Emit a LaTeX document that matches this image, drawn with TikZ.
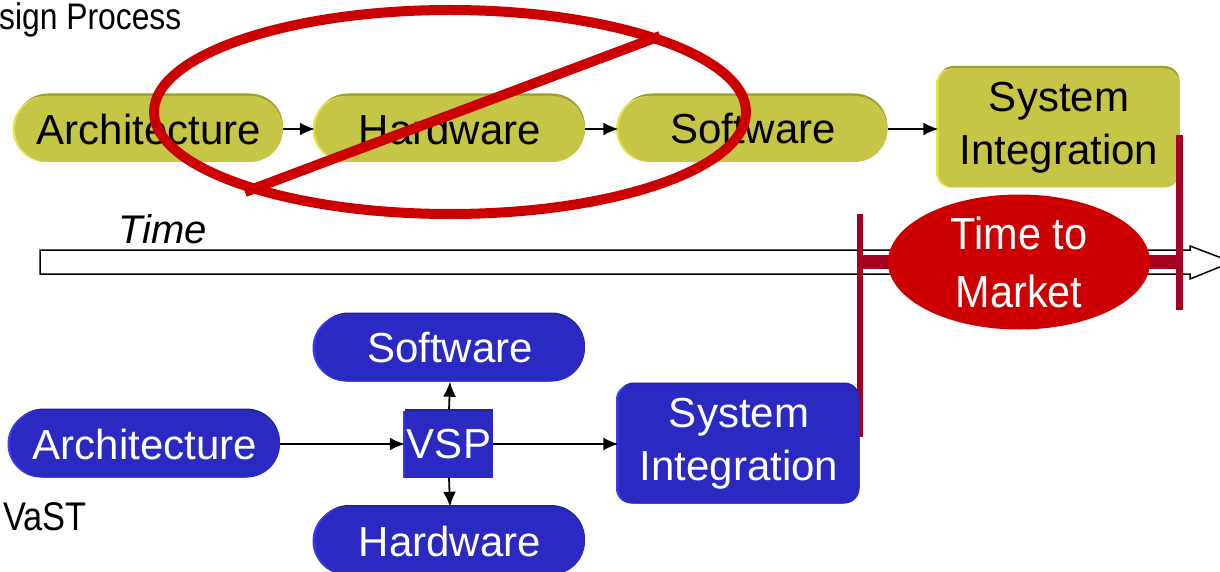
\documentclass[tikz,border=0pt]{standalone}
\usepackage{fontspec}
\setmainfont{Liberation Sans}
\newfontfamily\narrowfont[FakeStretch=0.86]{Liberation Sans}
\newfontfamily\mednarrow[FakeStretch=0.92]{Liberation Sans}
\usetikzlibrary{shapes.misc,shapes.geometric,arrows.meta,shadows}
\definecolor{olivefill}{HTML}{C5C546}
\definecolor{olivelight}{HTML}{E4E44C}
\definecolor{olivedark}{HTML}{9E9E36}
\definecolor{bluefill}{HTML}{2A2AC2}
\definecolor{bluelight}{HTML}{3A3AEA}
\definecolor{bluedark}{HTML}{22229A}
\definecolor{crossred}{HTML}{CC0000}
\definecolor{barred}{HTML}{A50021}
\begin{document}
\begin{tikzpicture}[x=1pt,y=-1pt,
  yfx/.style={copy shadow={shadow xshift=0pt, shadow yshift=2.5pt, fill=olivedark, draw=none},
              copy shadow={shadow xshift=-2.5pt, shadow yshift=0pt, fill=olivelight, draw=none}},
  bfx/.style={copy shadow={shadow xshift=0pt, shadow yshift=2pt, fill=bluedark, draw=none},
              copy shadow={shadow xshift=-2.5pt, shadow yshift=0pt, fill=bluelight, draw=none}},
  ypill/.style={rounded rectangle, fill=olivefill, yfx, minimum width=268pt, minimum height=66pt, inner sep=0pt, font=\fontsize{42}{50}\selectfont},
  ybox/.style={rectangle, rounded corners=15pt, fill=olivefill, yfx, minimum width=241pt, minimum height=119pt, inner sep=0pt, align=center, font=\fontsize{42}{53}\selectfont},
  bpill/.style={rounded rectangle, fill=bluefill, bfx, text=white, minimum width=270pt, minimum height=67pt, inner sep=0pt, font=\fontsize{42}{50}\selectfont},
  bbox/.style={rectangle, rounded corners=15pt, fill=bluefill, bfx, text=white, minimum width=241pt, minimum height=119pt, inner sep=0pt, align=center, font=\fontsize{42}{53}\selectfont},
  vspbox/.style={rectangle, fill=bluefill, bfx, text=white, minimum width=88pt, minimum height=67pt, inner sep=0pt, font=\fontsize{42}{50}\selectfont},
  arr/.style={-{Latex[length=15pt,width=13pt]}, line width=1.8pt},
  redx/.style={draw=crossred, line width=10pt},
  bar/.style={fill=barred},
  lbl/.style={inner sep=0pt, anchor=base west}
]
\useasboundingbox (0,0) rectangle (1220,572);
\clip (0,0) rectangle (1220,572);

% labels
\node[lbl, font=\narrowfont\fontsize{37}{40}\selectfont] (dp) at (-1,30) {sign Process};
\node[lbl, font=\narrowfont\fontsize{40}{44}\selectfont] (vast) at (3,530) {VaST};
\node[lbl, font=\itshape\fontsize{40}{44}\selectfont] (time) at (118,243) {Time};

% time arrow
\draw[line width=1.5pt, fill=white] (40,250) -- (1190,250) -- (1190,246) -- (1232,262) -- (1190,279) -- (1190,274) -- (40,274) -- cycle;
\fill[bar] (860,255) rectangle (1180,269);
\node[ellipse, fill=crossred, text=white, minimum width=262pt, minimum height=135pt, inner sep=0pt, align=center, font=\mednarrow\fontsize{45}{58}\selectfont] (ttm) at (1019,262) {Time to\\Market};

% top row
\node[ypill] (tA) at (149,129) {Architecture};
\node[ypill, minimum width=270pt] (tH) at (450,129) {Hardware};
\node[ypill, minimum width=269pt] (tS) at (753,129) {Software};
\node[ybox] (tSI) at (1059,128) {System\\Integration};
\draw[arr] (tA.east) -- (tH.west);
\draw[arr] (tH.east) -- (tS.west);
\draw[arr] (tS.east) -- (tS.east -| tSI.west);

% bottom row
\fill[bar] (857,214) rectangle (863,437);
\node[bpill] (bS) at (450,348) {Software};
\node[bpill] (bA) at (145,444) {Architecture};
\node[vspbox] (vsp) at (449,444) {VSP};
\node[bpill, minimum height=68pt] (bH) at (450,541) {Hardware};
\node[bbox] (bSI) at (739,444) {System\\Integration};
\draw[arr] (bA.east) -- (vsp.west);
\draw[arr] (vsp.east) -- (bSI.west);
\draw[arr] (vsp.north) -- (bS.south);
\draw[arr] (vsp.south) -- (bH.north);

% right bar
\fill[bar] (1176,135) rectangle (1183,310);

% red cross-out
\draw[redx] (450,112) ellipse [x radius=296pt, y radius=102pt];
\draw[redx] (245,192) -- (660,36);
\end{tikzpicture}
\end{document}
